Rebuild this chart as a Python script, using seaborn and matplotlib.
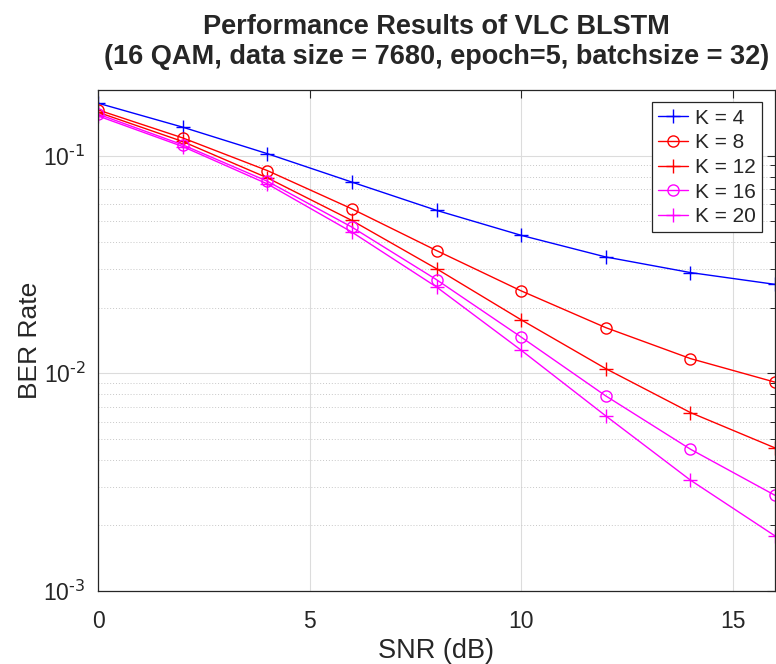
import matplotlib
matplotlib.use("Agg")
import matplotlib.pyplot as plt
import seaborn as sns
import numpy as np
import pandas as pd
from matplotlib.ticker import LogLocator, NullFormatter, FuncFormatter

snr = [0, 2, 4, 6, 8, 10, 12, 14, 16]
k4 = [0.174, 0.135, 0.102, 0.0755, 0.056, 0.043, 0.0342, 0.029, 0.0256]
k8 = [0.162, 0.1205, 0.0853, 0.0569, 0.0366, 0.0239, 0.0162, 0.01168, 0.0091]
k12 = [0.158, 0.116, 0.079, 0.0503, 0.0302, 0.0176, 0.0105, 0.0066, 0.00454]
k16 = [0.155, 0.112, 0.0762, 0.0469, 0.0269, 0.01466, 0.00787, 0.00448, 0.00275]
k20 = [0.152, 0.110, 0.0741, 0.0445, 0.0249, 0.01276, 0.00637, 0.00323, 0.00179]
labels = ["K = 4", "K = 8", "K = 12", "K = 16", "K = 20"]
series = [k4, k8, k12, k16, k20]
colors = ["#0000ff", "#ff0000", "#ff0000", "#ff00ff", "#ff00ff"]
markers = ["+", "o", "+", "o", "+"]

sns.set_style("white")
plt.rcParams["font.family"] = ["Liberation Sans", "DejaVu Sans"]

fig = plt.figure(figsize=(7.76, 6.64), dpi=100)
ax = fig.add_axes([0.1263, 0.110, 0.8724, 0.7545])

for lab, vals, c, m in zip(labels, series, colors, markers):
    df = pd.DataFrame({"SNR": snr, "BER": vals})
    kw = dict(markerfacecolor="none", markeredgecolor=c) if m == "o" else dict(markeredgecolor=c)
    sns.lineplot(data=df, x="SNR", y="BER", ax=ax, color=c, marker=m,
                 markersize=8 if m == "o" else 10, markeredgewidth=1.0,
                 linewidth=1.0, label=lab, **kw)

ax.set_yscale("log")
ax.set_xlim(0, 16)
ax.set_ylim(1e-3, 0.2)
ax.set_xticks([0, 5, 10, 15])
ax.yaxis.set_major_locator(LogLocator(base=10, numticks=10))
ax.yaxis.set_minor_locator(LogLocator(base=10, subs=np.arange(2, 10), numticks=20))
ax.yaxis.set_minor_formatter(NullFormatter())


def log_fmt(v, pos):
    e = int(round(np.log10(v)))
    return r"$\mathregular{10^{\text{-%d}}}$" % (-e) if e < 0 else r"$\mathregular{10^{%d}}$" % e


ax.yaxis.set_major_formatter(FuncFormatter(log_fmt))

ax.grid(True, which="major", color="#dcdcdc", linestyle="-", linewidth=0.8)
ax.grid(True, which="minor", axis="y", color="#c8c8c8", linestyle=(0, (1, 2)), linewidth=0.7)
ax.set_axisbelow(True)

for s in ax.spines.values():
    s.set_color("#262626")
    s.set_linewidth(0.9)
ax.tick_params(which="both", direction="in", top=True, right=True, colors="#262626",
               labelcolor="#262626", labelsize=16.5)
ax.tick_params(which="major", length=6, width=0.8)
ax.tick_params(which="minor", length=3.5, width=0.7)
ax.tick_params(axis="x", which="major", pad=14)
ax.tick_params(axis="y", which="major", pad=9)

ax.set_xlabel("SNR (dB)", fontsize=19.5, color="#262626", labelpad=3)
ax.set_ylabel("BER Rate", fontsize=19, color="#262626", labelpad=1)
ax.set_title("Performance Results of VLC BLSTM\n(16 QAM, data size = 7680, epoch=5, batchsize = 32)",
             fontsize=19.5, fontweight="bold", pad=19, linespacing=1.2)

leg = ax.legend(loc="upper right", fontsize=15, frameon=True, fancybox=False,
                framealpha=1, edgecolor="#262626", borderpad=0.3, labelspacing=0.27,
                handlelength=1.45, handletextpad=0.33, borderaxespad=0.6)
leg.get_frame().set_linewidth(0.9)

fig.savefig("out.png", dpi=100)
